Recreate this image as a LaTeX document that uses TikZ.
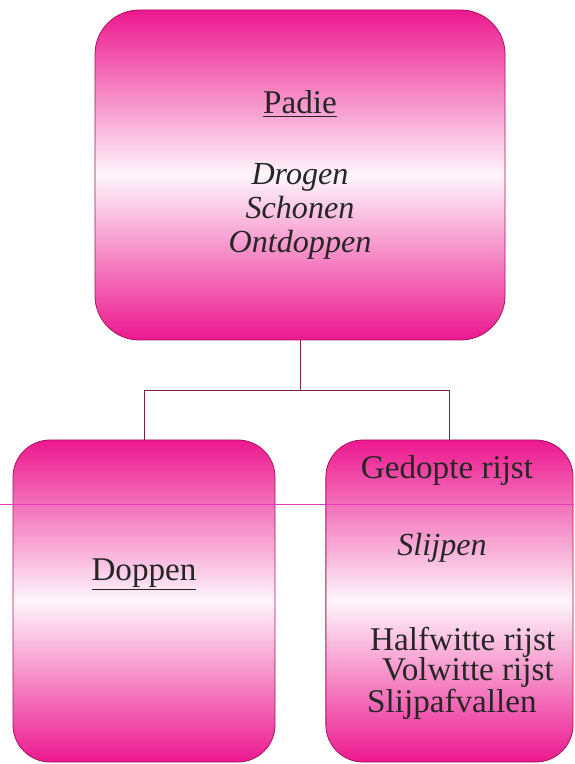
\documentclass[tikz,border=0pt]{standalone}
\usepackage{fontspec}
\setmainfont{Liberation Serif}
\usepackage{tikz}
\usetikzlibrary{positioning,calc}
\definecolor{padiepink}{RGB}{236, 24, 142}
\definecolor{padieedge}{RGB}{165, 20, 95}
\definecolor{linkred}{RGB}{125, 30, 70}
\definecolor{scanline}{RGB}{225, 60, 190}

\tikzset{
  stagebox/.style={draw=padieedge, line width=0.8pt, rounded corners=1.3cm, top color=padiepink, bottom color=padiepink, middle color=padiepink!4, inner sep=0pt},
  labeltext/.style={font=\fontsize{33}{38}\selectfont, anchor=base, inner sep=0pt, text=black!85},
  tasktext/.style={labeltext, font=\fontsize{32}{38}\selectfont\itshape},
  linkline/.style={draw=linkred, line width=1pt}
}

\begin{document}
\begin{tikzpicture}
    \useasboundingbox (0,0) rectangle (20.09,26.74);

    % Boxes
    \node[stagebox, rounded corners=1.55cm, minimum width=14.35cm, minimum height=11.55cm] (padie) at (10.5, 20.615) {};
    \node[stagebox, minimum width=9.17cm, minimum height=11.27cm] (doppen) at (5.04, 5.705) {};
    \node[stagebox, minimum width=8.65cm, minimum height=11.27cm] (rijst) at (15.73, 5.705) {};

    % Padie
    \node[labeltext] (t_padie) at (10.5, 22.75) {\underline{Padie}};
    \node[tasktext] (t_drogen) at (10.5, 20.265) {Drogen};
    \node[tasktext] (t_schonen) at (10.5, 19.075) {Schonen};
    \node[tasktext] (t_ontdoppen) at (10.5, 17.885) {Ontdoppen};

    % Doppen
    \node[labeltext] (t_doppen) at (5.04, 6.405) {\underline{Doppen}};

    % Gedopte rijst
    \node[labeltext] (t_rijst) at (15.645, 9.975) {Gedopte rijst};
    \node[tasktext] (t_slijpen) at (15.47, 7.28) {Slijpen};
    \node[labeltext, anchor=base west] (t_half) at (12.95, 3.955) {Halfwitte rijst};
    \node[labeltext, anchor=base west] (t_vol) at (13.37, 2.905) {Volwitte rijst};
    \node[labeltext, anchor=base west] (t_afval) at (12.845, 1.785) {Slijpafvallen};

    % Connectors
    \coordinate (split) at ($(padie.south)+(0,-1.75)$);
    \draw[linkline] (padie.south) -- (split) -| (doppen.north);
    \draw[linkline] (split) -| (rijst.north);

    % scan line
    \draw[scanline, line width=0.6pt] (0, 9.1) -- (20.09, 9.1);
\end{tikzpicture}
\end{document}
